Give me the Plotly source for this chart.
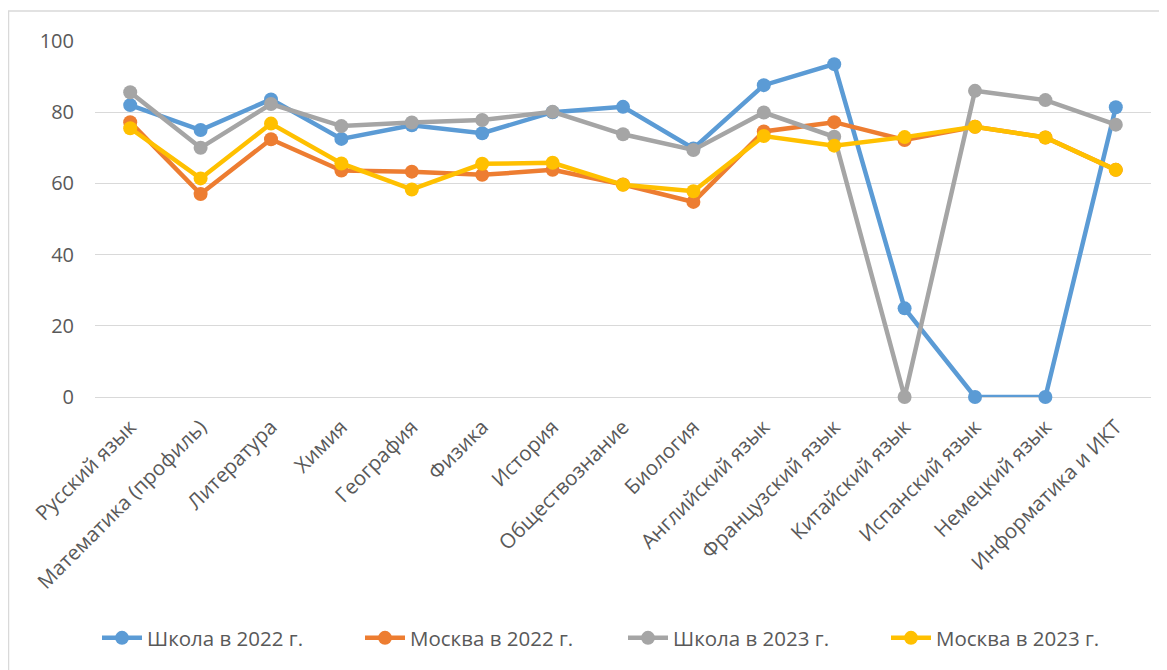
import plotly.graph_objects as go

categories = ["Русский язык", "Математика (профиль)", "Литература", "Химия", "География",
              "Физика", "История", "Обществознание", "Биология", "Английский язык",
              "Французский язык", "Китайский язык", "Испанский язык", "Немецкий язык",
              "Информатика и ИКТ"]

school_2022 = [82.0, 75.0, 83.6, 72.5, 76.3, 74.1, 80.0, 81.5, 69.8, 87.6, 93.5, 24.9, 0, 0, 81.4]
moscow_2022 = [77.2, 57.0, 72.4, 63.6, 63.3, 62.4, 63.8, 59.7, 54.8, 74.6, 77.2, 72.2, 75.9, 72.9, 63.8]
school_2023 = [85.6, 70.0, 82.3, 76.1, 77.1, 77.8, 80.1, 73.8, 69.4, 79.9, 73.1, 0, 86.0, 83.4, 76.5]
moscow_2023 = [75.5, 61.4, 76.8, 65.6, 58.3, 65.5, 65.8, 59.6, 57.8, 73.3, 70.6, 73.0, 75.9, 72.9, 63.8]

series = [
    ("Школа в 2022 г.", school_2022, "#5B9BD5"),
    ("Москва в 2022 г.", moscow_2022, "#ED7D31"),
    ("Школа в 2023 г.", school_2023, "#A5A5A5"),
    ("Москва в 2023 г.", moscow_2023, "#FFC000"),
]

FONT = "Open Sans"
TXT = "#595959"

fig = go.Figure()
for name, vals, color in series:
    fig.add_trace(go.Scatter(
        x=categories, y=vals, name=name, mode="lines+markers",
        line=dict(color=color, width=4.5),
        marker=dict(color=color, size=14),
        cliponaxis=False,
    ))

# page body adds an 8px offset; figure sized to compensate
L, T, R, B = 87, 33, 16, 273
W, H = 1159, 662
plot_w = W - L - R
plot_h = H - T - B

fig.update_layout(
    width=W, height=H,
    margin=dict(l=L, r=R, t=T, b=B, autoexpand=False),
    paper_bgcolor="white", plot_bgcolor="white",
    font=dict(family=FONT, size=20, color=TXT),
    showlegend=True,
    legend=dict(orientation="h", x=0.5, xanchor="center",
                y=-(638 - 397) / plot_h, yanchor="middle",
                font=dict(family=FONT, size=20.5, color=TXT),
                traceorder="normal", itemwidth=40,
                entrywidth=208, entrywidthmode="pixels"),
    xaxis=dict(tickangle=-45, showgrid=False, showline=False, ticks="",
               range=[-0.5, len(categories) - 0.5], automargin=False,
               ticklabelstandoff=13,
               tickfont=dict(family=FONT, size=20.5, color=TXT)),
    yaxis=dict(range=[0, 100], dtick=20, showgrid=True, gridcolor="#D9D9D9", gridwidth=1.3,
               zeroline=True, zerolinecolor="#D9D9D9", zerolinewidth=1.3,
               showline=False, ticks="", ticklabelstandoff=20, automargin=False,
               tickfont=dict(family=FONT, size=20, color=TXT)),
    shapes=[
        dict(type="line", xref="paper", yref="paper", x0=-L / plot_w, x1=1.1,
             y0=1 + (T - 3) / plot_h, y1=1 + (T - 3) / plot_h,
             line=dict(color="#D9D9D9", width=1.5)),
        dict(type="line", xref="paper", yref="paper", x0=-(L - 0.5) / plot_w, x1=-(L - 0.5) / plot_w,
             y0=1 + (T - 3) / plot_h, y1=-1.0,
             line=dict(color="#D9D9D9", width=1.5)),
    ],
)

fig.write_html("out.html")
